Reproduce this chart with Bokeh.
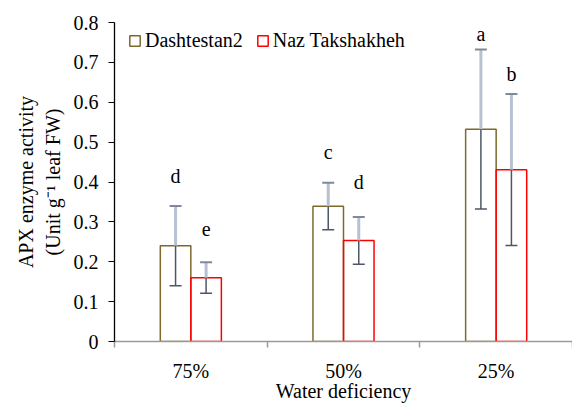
import math
from bokeh.plotting import figure
from bokeh.models import Range1d, FixedTicker, Legend, LegendItem, ColumnDataSource
from bokeh.core.properties import value
from bokeh.embed import file_html
from bokeh.resources import INLINE

# ---- data ----
categories = ["75%", "50%", "25%"]
series_names = ["Dashtestan2", "Naz Takshakheh"]
dashtestan = [0.240, 0.339, 0.532]
dashtestan_err = [0.100, 0.059, 0.200]
naz = [0.160, 0.253, 0.431]
naz_err = [0.039, 0.059, 0.190]
dashtestan_letters = ["d", "c", "a"]
naz_letters = ["e", "d", "b"]
dashtestan_letter_y = [0.416, 0.474, 0.772]
naz_letter_y = [0.283, 0.399, 0.672]
y_ticks = [0.0, 0.1, 0.2, 0.3, 0.4, 0.5, 0.6, 0.7, 0.8]
y_tick_labels = ["0", "0.1", "0.2", "0.3", "0.4", "0.5", "0.6", "0.7", "0.8"]
x_title = "Water deficiency"
y_title = "APX enzyme activity\n(Unit g\u207b\u00b9 leaf FW)"

FONT = "Liberation Serif, serif"
FS = "20px"
COL_D = "#7d692b"
COL_N = "#ff0000"
ERR_UP = "#b7c1d1"
ERR_DN = "#4e5666"
ERR_CAP_UP = "#808999"

centers = [i + 0.5 for i in range(len(categories))]
dx = 0.1
bw = 0.2

p = figure(width=572, height=406, x_range=Range1d(0, len(categories)), y_range=Range1d(0, 0.8),
           output_backend="svg", toolbar_location=None,
           min_border_left=114, min_border_right=0, min_border_top=22, min_border_bottom=65)
p.grid.visible = False
p.outline_line_color = None
p.background_fill_color = "white"

# x axis
p.xaxis.ticker = FixedTicker(ticks=centers, minor_ticks=[float(i) for i in range(len(categories) + 1)])
p.xaxis.major_label_overrides = {c: lab for c, lab in zip(centers, categories)}
p.xaxis.major_tick_out = 0
p.xaxis.major_tick_in = 0
p.xaxis.minor_tick_out = 6
p.xaxis.minor_tick_in = 0
p.xaxis.minor_tick_line_color = "#9a9a9a"
p.xaxis.minor_tick_line_width = 1.5
p.xaxis.axis_line_color = "#9a9a9a"
p.xaxis.axis_line_width = 1.5
p.xaxis.major_label_standoff = 12
p.xaxis.major_label_text_font = FONT
p.xaxis.major_label_text_font_size = FS
p.xaxis.major_label_text_color = "black"
p.xaxis.axis_label = x_title
p.xaxis.axis_label_standoff = -5
p.xaxis.axis_label_text_font = FONT
p.xaxis.axis_label_text_font_size = FS
p.xaxis.axis_label_text_font_style = "normal"
p.xaxis.axis_label_text_color = "black"

# y axis
p.yaxis.ticker = FixedTicker(ticks=y_ticks)
p.yaxis.major_label_overrides = {t: lab for t, lab in zip(y_ticks, y_tick_labels)}
p.yaxis.major_tick_out = 6
p.yaxis.major_tick_in = 0
p.yaxis.minor_tick_line_color = None
p.yaxis.axis_line_color = "black"
p.yaxis.axis_line_width = 1.3
p.yaxis.major_tick_line_color = "black"
p.yaxis.major_label_standoff = 10
p.yaxis.major_label_text_font = FONT
p.yaxis.major_label_text_font_size = FS
p.yaxis.major_label_text_color = "black"
p.yaxis.axis_label = y_title
p.yaxis.axis_label_standoff = 7
p.yaxis.axis_label_text_font = FONT
p.yaxis.axis_label_text_font_size = FS
p.yaxis.axis_label_text_font_style = "normal"
p.yaxis.axis_label_text_color = "black"

# bars
xd = [c - dx for c in centers]
xn = [c + dx for c in centers]
src_d = ColumnDataSource(dict(x=xd, top=dashtestan, lo=[v - e for v, e in zip(dashtestan, dashtestan_err)],
                              hi=[v + e for v, e in zip(dashtestan, dashtestan_err)],
                              ly=dashtestan_letter_y, lt=dashtestan_letters))
src_n = ColumnDataSource(dict(x=xn, top=naz, lo=[v - e for v, e in zip(naz, naz_err)],
                              hi=[v + e for v, e in zip(naz, naz_err)],
                              ly=naz_letter_y, lt=naz_letters))

r_d = p.vbar(x="x", top="top", width=bw, source=src_d, fill_color=None, line_color=COL_D, line_width=1.5)
r_n = p.vbar(x="x", top="top", width=bw, source=src_n, fill_color=None, line_color=COL_N, line_width=1.5)

for src in (src_d, src_n):
    p.segment(x0="x", y0="top", x1="x", y1="hi", source=src, line_color=ERR_UP, line_width=3)
    p.segment(x0="x", y0="lo", x1="x", y1="top", source=src, line_color=ERR_DN, line_width=1.5)
    p.scatter(x="x", y="hi", source=src, marker="dash", size=12, line_color=ERR_CAP_UP, line_width=2)
    p.scatter(x="x", y="lo", source=src, marker="dash", size=12, line_color=ERR_DN, line_width=1.5)
    p.text(x="x", y="ly", text="lt", source=src, text_font=value(FONT),
           text_font_size=value(FS), text_align="center", text_baseline="middle", text_color="black")

# legend
legend = Legend(items=[LegendItem(label=series_names[0], renderers=[r_d]),
                       LegendItem(label=series_names[1], renderers=[r_n])],
                orientation="horizontal", location=(14, 289), padding=0, margin=0, spacing=13,
                glyph_width=13, glyph_height=13, label_standoff=4,
                border_line_color=None, background_fill_alpha=0,
                label_text_font=FONT, label_text_font_size=FS, label_text_color="black")
p.add_layout(legend)

open("out.html", "w").write(file_html(p, INLINE))
